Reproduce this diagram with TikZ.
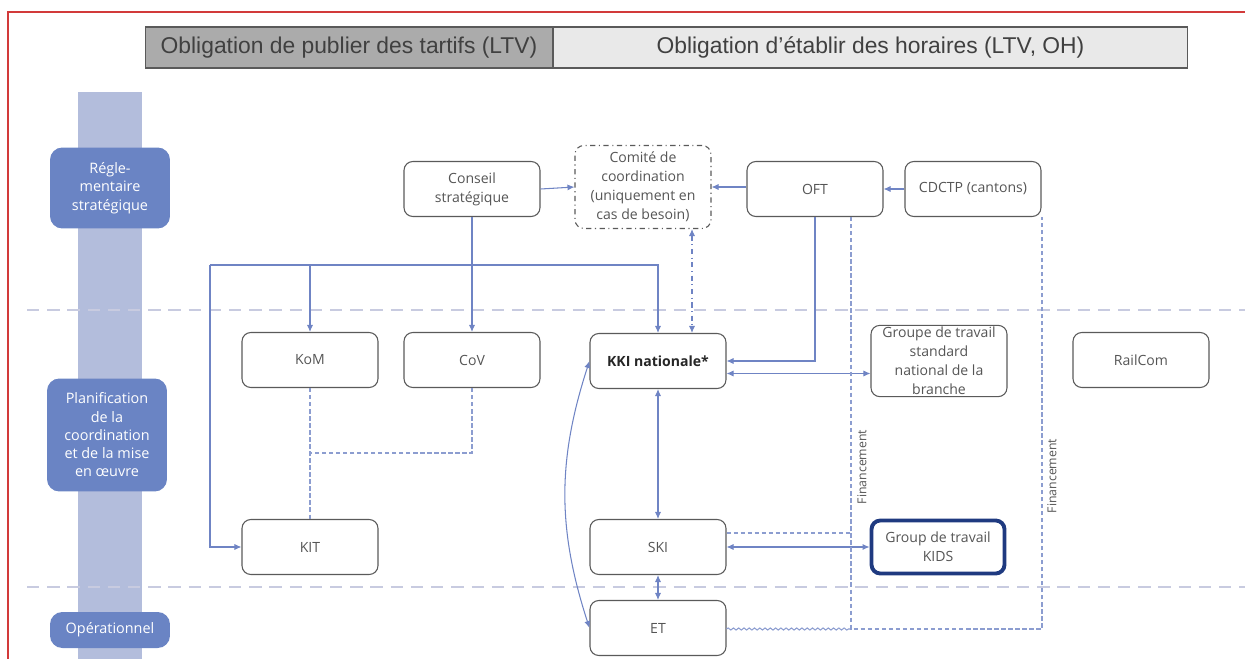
\documentclass[tikz,border=0pt]{standalone}
\usepackage{fontspec}
\setmainfont{Open Sans}
\newfontfamily\headfont{Liberation Sans}
\usetikzlibrary{arrows.meta}
\usetikzlibrary{decorations.pathmorphing}

\definecolor{linkblue}{HTML}{6F84C4}
\definecolor{levelblue}{HTML}{6A84C4}
\definecolor{bandblue}{HTML}{B3BDDC}
\definecolor{sepgray}{HTML}{C8CBE0}
\definecolor{boxgray}{HTML}{5A5A5A}
\definecolor{txtgray}{HTML}{555555}
\definecolor{kidsblue}{HTML}{1F3A80}
\definecolor{headdark}{HTML}{ABABAB}
\definecolor{headlight}{HTML}{E9E9E9}
\definecolor{framered}{HTML}{D23A3A}

\newcommand{\orgnode}[3] {\node at (#1) (#2) [orgbox] {#3};}
\newcommand{\levelnode}[4] {\node at (#1) (#2) [levelbox, minimum height=#3] {#4};}
\newcommand{\orglink}[2] {\draw [link, -{Latex[length=4pt,width=3.5pt]}] (#1) -- (#2);}
\newcommand{\orgboth}[2] {\draw [link, {Latex[length=4pt,width=3.5pt]}-{Latex[length=4pt,width=3.5pt]}] (#1) -- (#2);}

\begin{document}
\begin{tikzpicture}[x=0.02cm, y=-0.02cm,
  orgbox/.style={draw=boxgray, rounded corners=5pt, line width=0.6pt, minimum width=2.72cm,
    minimum height=1.1cm, align=center, text=txtgray, inner sep=1pt,
    font=\fontsize{8}{10.8}\selectfont},
  levelbox/.style={fill=levelblue, rounded corners=7pt, minimum width=2.4cm, align=center,
    text=white, inner sep=1pt, font=\fontsize{8.2}{10.4}\selectfont},
  headbox/.style={draw=boxgray, line width=0.6pt, minimum height=0.82cm, text=black!75,
    font=\headfont\fontsize{13}{15}\selectfont},
  link/.style={draw=linkblue, line width=0.6pt},
  fund/.style={draw=linkblue!80, line width=0.6pt, dash pattern=on 2.5pt off 1.5pt},
  sep/.style={draw=sepgray, line width=1.2pt, dash pattern=on 7pt off 4.5pt},
  fin/.style={rotate=90, text=txtgray, font=\fontsize{7}{8}\selectfont}]

\useasboundingbox (0,0) rectangle (1245,659);

% frame and band
\draw [framered, line width=0.8pt] (8,659) -- (8,12) -- (1245,12);
\fill [bandblue] (78,92) rectangle (142,659);

% separators
\draw [sep] (27,310) -- (1245,310);
\draw [sep] (27,587) -- (1245,587);

% headers
\node at (349,47.5) (hTarif) [headbox, fill=headdark, minimum width=8.16cm] {Obligation de publier des tartifs (LTV)};
\node at (870.5,47.5) (hHoraire) [headbox, fill=headlight, minimum width=12.7cm] {Obligation d’établir des horaires (LTV, OH)};

% levels
\levelnode{110,188}{Reg}{1.62cm}{Régle-\\mentaire\\stratégique}
\levelnode{107,435}{Plan}{2.26cm}{Planification\\de la\\coordination\\et de la mise\\en œuvre}
\levelnode{110,630}{Oper}{0.72cm}{Opérationnel}

% boxes
\orgnode{472,189}{Conseil}{Conseil\\stratégique}
\node at (643,187) (Comite) [orgbox, dash dot, minimum height=1.66cm] {Comité de\\coordination\\(uniquement en\\cas de besoin)};
\orgnode{815,189}{OFT}{OFT}
\orgnode{973,189}{CDCTP}{CDCTP (cantons)}
\orgnode{310,360}{KoM}{KoM}
\orgnode{472,360}{CoV}{CoV}
\node at (658,361) (KKI) [orgbox, text=black!85] {\bfseries KKI nationale*};
\node at (939,361) (GTS) [orgbox, minimum height=1.4cm] {Groupe de travail\\standard\\national de la\\branche};
\orgnode{1141,360}{RailCom}{RailCom}
\orgnode{310,547}{KIT}{KIT}
\orgnode{658,547}{SKI}{SKI}
\node at (938,547) (KIDS) [orgbox, draw=kidsblue, line width=2.2pt, minimum width=2.66cm, minimum height=1.06cm] {Group de travail\\KIDS};
\orgnode{658,628}{ET}{ET}

% top links
\orglink{Conseil.east}{Comite.west}
\orglink{OFT.west |- Comite.east}{Comite.east}
\orglink{CDCTP.west}{OFT.east}
\orglink{Conseil.south}{CoV.north}

\coordinate (bus) at (210,265);
\draw [link, -{Latex[length=4pt,width=3.5pt]}] (bus) |- (KIT.west);
\draw [link, -{Latex[length=4pt,width=3.5pt]}] (bus) -| (KKI.north);
\orglink{bus -| KoM.north}{KoM.north}

\coordinate (cx) at (692,0);
\draw [link, dash dot, {Latex[length=4pt,width=3.5pt]}-{Latex[length=4pt,width=3.5pt]}] (Comite.south -| cx) -- (KKI.north -| cx);

\draw [link, -{Latex[length=4pt,width=3.5pt]}] (OFT.south) |- (KKI.east);
\coordinate (kkiR) at ([yshift=-0.25cm]KKI.east);
\orgboth{kkiR}{kkiR -| GTS.west}

\orgboth{KKI.south}{SKI.north}
\orgboth{SKI.south}{ET.north}
\draw [link, {Latex[length=4pt,width=3.5pt]}-{Latex[length=4pt,width=3.5pt]}] (KKI.west) to [bend right=18] (ET.west);
\orgboth{SKI.east}{KIDS.west}

% dashed links
\draw [fund] (KoM.south) -- (KIT.north);
\coordinate (kj) at (310,453);
\draw [fund] (CoV.south) |- (kj);

% financing
\coordinate (finA) at (851,629);
\coordinate (finB) at (1042,629);
\draw [fund] (OFT.south -| finA) -- (finA) -- (finB) -- (CDCTP.south -| finB);
\draw [linkblue!80, line width=0.6pt, decorate, decoration={snake, amplitude=0.6pt, segment length=3pt}] (ET.east |- finA) -- (finA);
\coordinate (skiT) at ([yshift=0.28cm]SKI.east);
\draw [fund] (skiT) -- (skiT -| finA);
\node at (862,467) (finlabA) [fin] {Financement};
\node at (1052,476) (finlabB) [fin] {Financement};

\end{tikzpicture}
\end{document}
